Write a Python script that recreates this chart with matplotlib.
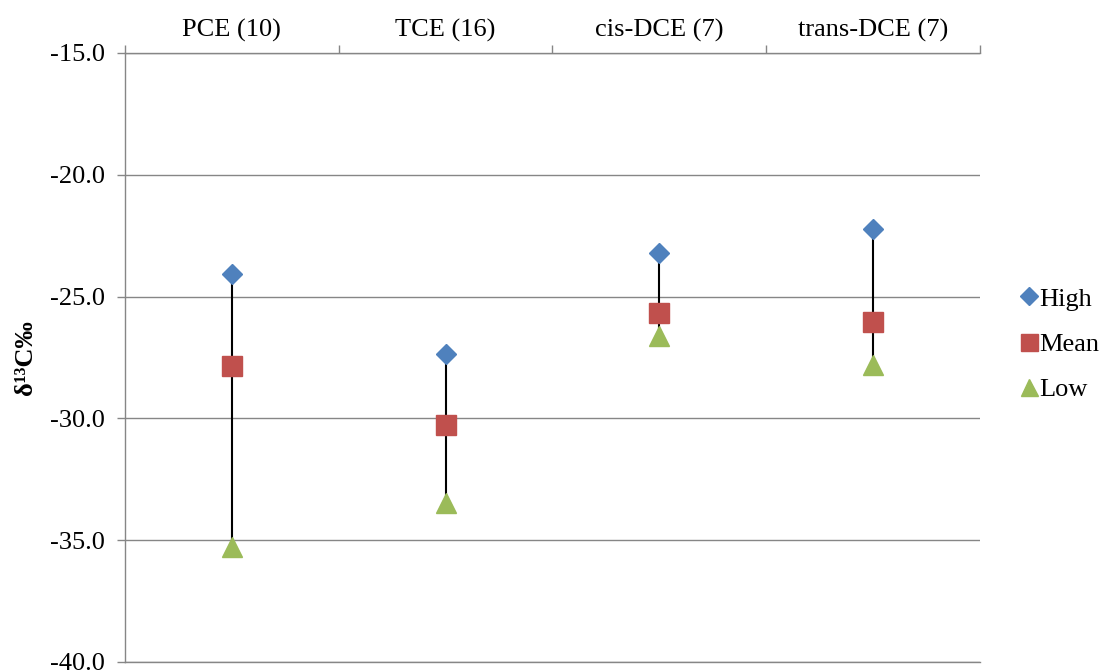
import numpy as np
import matplotlib
matplotlib.use("Agg")
import matplotlib.pyplot as plt

# Daten
kategorien = ["PCE (10)", "TCE (16)", "cis-DCE (7)", "trans-DCE (7)"]
hoch = [-24.07, -27.34, -23.2, -22.23]
mittel = [-27.85, -30.27, -25.66, -26.05]
tief = [-35.26, -33.48, -26.6, -27.81]

plt.rcParams["font.family"] = ["Liberation Serif", "DejaVu Serif"]
grau = "#868686"

fig = plt.figure(figsize=(11.03, 6.72), dpi=100)
ax = fig.add_axes([125 / 1103, 1 - 662 / 672, 855 / 1103, 609 / 672])

x = np.arange(1, len(kategorien) + 1)

# Verbindungslinien hoch - tief
ax.vlines(x, tief, hoch, color="black", lw=1.5, zorder=2)

h1, = ax.plot(x, hoch, ls="none", marker="D", ms=10.5, color="#4F81BD",
              mec="#4F81BD", label="High", zorder=3)
h2, = ax.plot(x, mittel, ls="none", marker="s", ms=14.4, color="#C0504D",
              mec="#C0504D", label="Mean", zorder=3)
h3, = ax.plot(x, tief, ls="none", marker="^", ms=14.4, color="#9BBB59",
              mec="#9BBB59", label="Low", zorder=3)

# Achsen
ax.set_xlim(0.5, len(kategorien) + 0.5)
ax.set_ylim(-40, -15)
ax.set_yticks(np.arange(-40, -14, 5))
ax.set_yticklabels([f"{v:.1f}" for v in np.arange(-40, -14, 5)])
ax.yaxis.grid(True, color=grau, lw=1.0)
ax.set_axisbelow(True)

ax.xaxis.tick_top()
ax.set_xticks(x)
ax.set_xticklabels(kategorien)
ax.set_xticks(np.arange(0.5, len(kategorien) + 1, 1), minor=True)
ax.tick_params(axis="x", which="major", length=0, pad=8, labelsize=19)
ax.tick_params(axis="x", which="minor", length=5.5, width=1.0, color=grau,
               direction="out")
ax.tick_params(axis="y", length=5.5, width=1.0, color=grau, pad=9,
               labelsize=19)

for s in ["top", "left", "bottom"]:
    ax.spines[s].set_color(grau)
    ax.spines[s].set_linewidth(1.0)
ax.spines["right"].set_visible(False)

ax.set_ylabel("δ¹³C‰", fontsize=19, fontweight="bold", labelpad=9)

fig.legend(handles=[h1, h2, h3], loc="center left",
           bbox_to_anchor=(1021 / 1103, 1 - 344 / 672), frameon=False,
           fontsize=19, handlelength=0.6, handletextpad=0.1,
           labelspacing=0.82, borderpad=0, borderaxespad=0, markerscale=0.85)

fig.savefig("out.png", dpi=100)
